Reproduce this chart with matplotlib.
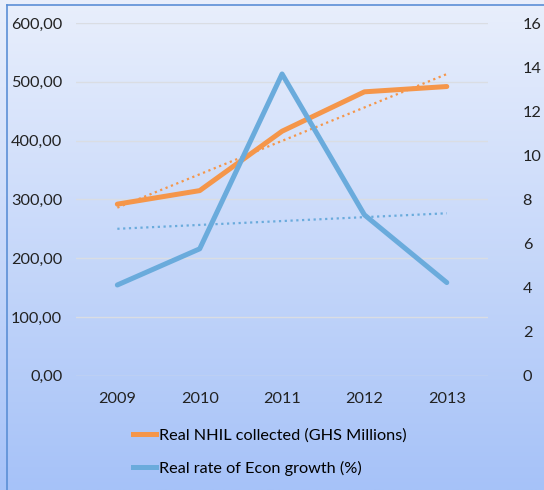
import numpy as np
import matplotlib.pyplot as plt
from matplotlib.lines import Line2D

years = ["2009", "2010", "2011", "2012", "2013"]
nhil = [292, 315, 416, 483, 492]          # Real NHIL collected (GHS Millions), left axis
growth = [4.12, 5.76, 13.69, 7.3, 4.23]   # Real rate of Econ growth (%), right axis
left_ticks = [0, 100, 200, 300, 400, 500, 600]
right_ticks = [0, 2, 4, 6, 8, 10, 12, 14, 16]

orange = "#F5964A"
blue = "#6AABDC"

plt.rcParams['font.family'] = ['Lato', 'DejaVu Sans']

fig = plt.figure(figsize=(5.44, 4.9), dpi=100)

# gradient background over the whole figure
bg = fig.add_axes([0, 0, 1, 1], zorder=-10)
top_c = np.array([233, 239, 252]) / 255
bot_c = np.array([166, 194, 248]) / 255
t = np.linspace(0, 1, 256)[:, None]
grad = top_c * (1 - t) + bot_c * t
bg.imshow(grad[:, None, :], aspect="auto", extent=[0, 1, 0, 1])
bg.plot([0.013, 0.013], [0, 0.989], color="#5B8FD6", lw=1.2)
bg.plot([0.013, 1], [0.989, 0.989], color="#5B8FD6", lw=1.2)
bg.set_xlim(0, 1)
bg.set_ylim(0, 1)
bg.axis("off")

ax = fig.add_axes([0.14, 0.233, 0.757, 0.72])
ax.patch.set_alpha(0)
ax2 = ax.twinx()
ax2.patch.set_alpha(0)

x = np.arange(len(years))

for y in left_ticks:
    ax.axhline(y, color="#DADDE3", lw=1.0, zorder=0)

# trend lines
p1 = np.polyfit(x, nhil, 1)
ax.plot(x, np.polyval(p1, x), color=orange, lw=1.6, ls=(0, (1, 1.6)))
p2 = np.polyfit(x, growth, 1)
ax2.plot(x, np.polyval(p2, x), color=blue, lw=1.6, ls=(0, (1, 1.6)))

ax.plot(x, nhil, color=orange, lw=3.6, solid_capstyle="round", zorder=3)
ax2.plot(x, growth, color=blue, lw=3.6, solid_capstyle="round", zorder=3)

ax.set_xlim(-0.5, 4.5)
ax.set_ylim(0, 600)
ax2.set_ylim(0, 16)
ax.set_yticks(left_ticks)
ax.set_yticklabels([f"{v:.2f}".replace(".", ",") for v in left_ticks])
ax2.set_yticks(right_ticks)
ax.set_xticks(x)
ax.set_xticklabels(years)

for a in (ax, ax2):
    for s in a.spines.values():
        s.set_visible(False)
    a.tick_params(length=0, labelsize=11.7, colors="#222222")
ax.tick_params(axis="y", pad=10)
ax.tick_params(axis="x", pad=12)
ax2.tick_params(axis="y", pad=25)

handles = [Line2D([], [], color=orange, lw=3.6),
           Line2D([], [], color=blue, lw=3.6)]
fig.legend(handles, ["Real NHIL collected (GHS Millions)", "Real rate of Econ growth (%)"],
           loc="upper left", bbox_to_anchor=(0.244, 0.125), ncol=1, frameon=False,
           fontsize=11.7, handlelength=1.45, handletextpad=0.15, labelspacing=1.1,
           borderpad=0, borderaxespad=0)
fig.savefig("out.png", dpi=100)
